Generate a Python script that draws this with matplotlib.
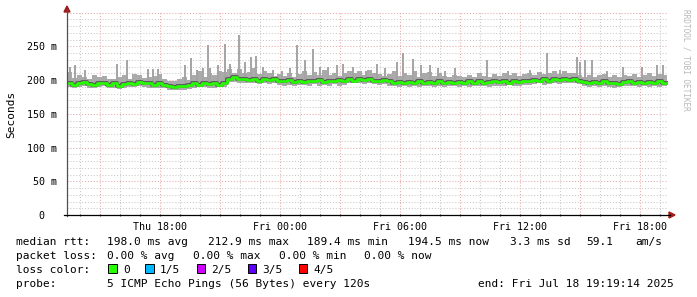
#!/usr/bin/env python3
"""SmokePing style latency graph (median rtt with smoke) drawn with matplotlib."""

import numpy as np
import matplotlib
matplotlib.use("Agg")
import matplotlib.pyplot as plt
from matplotlib.patches import Rectangle, Polygon

W, H = 697, 297

# time axis in hours (Thu 18:00 = 18, Fri 00:00 = 24, ...), 15 min samples
t_start = 13.35
t_step = 0.25

median_ms = [
    196, 193, 195, 197, 194, 193, 196,
    195, 193, 195, 192, 194, 196, 194,
    197, 195, 196, 193, 195, 193,
    192, 190, 192, 191, 193,
    195, 193, 196, 194, 195, 193, 196,
    202, 204, 201, 202, 200, 202, 199, 201, 200, 202, 199,
    198, 200, 197, 199, 197, 199, 198, 200, 197, 199, 198, 200, 198, 201,
    199, 201, 200, 202, 199, 198, 200,
    198, 196, 197, 195, 197, 196, 198, 195, 197, 196, 198, 195, 197, 196, 197,
    196, 198, 196, 198, 196, 197, 199, 197, 198, 196, 198, 197,
    199, 198, 200, 199, 201, 199, 201, 200, 202, 200, 201, 199,
    197, 195, 197, 196, 198, 195, 196, 194, 197, 198, 196, 197, 195, 197, 196, 198, 196,
]

low_ms = [
    190, 188, 190, 191, 189, 189, 190,
    191, 189, 188, 187, 188, 190, 190,
    191, 190, 189, 188, 189, 188,
    186, 185, 186, 186, 187,
    189, 190, 190, 189, 188, 190, 190,
    197, 197, 196, 195, 196, 195, 194, 195, 194, 195, 193,
    192, 193, 191, 193, 193, 191, 194, 192, 193, 192, 194, 192, 193, 195,
    195, 195, 194, 196, 194, 193, 194,
    192, 191, 190, 192, 190, 191, 190, 191, 192, 190, 191, 190, 192, 191, 190,
    191, 190, 192, 192, 191, 190, 192, 192, 191, 193, 191, 192,
    193, 193, 194, 195, 193, 194, 196, 194, 195, 196, 196, 194,
    191, 190, 191, 190, 192, 190, 189, 190, 191, 192, 191, 190, 191, 190, 192, 190, 191,
]

high_ms = [
    212, 203, 208, 205, 202, 207, 204,
    206, 202, 201, 205, 208, 202, 209,
    207, 203, 204, 206, 209, 202,
    199, 198, 202, 204, 200,
    208, 213, 205, 211, 208, 214, 212,
    216, 211, 217, 210, 212, 218, 209, 213, 210, 206, 209,
    206, 211, 205, 209, 213, 207, 212, 208, 215, 208, 211, 206, 210, 213,
    211, 213, 208, 215, 210, 209, 206,
    209, 213, 206, 211, 207, 214, 205, 210, 212, 206, 211, 206, 205, 208, 206,
    205, 208, 204, 210, 206, 205, 209, 206, 210, 207, 211, 206,
    209, 211, 207, 212, 209, 211, 214, 209, 213, 211, 210, 208,
    205, 208, 204, 207, 209, 205, 207, 204, 208, 206, 209, 205, 208, 211, 206, 209, 207,
]

# single-sample outliers of the slowest ping (hour, ms)
spike_t = [13.5, 13.75, 14.25, 15.85, 16.35, 17.4, 17.65, 17.9, 19.25, 19.55,
           19.85, 20.15, 20.4, 20.5, 20.9, 21.25, 21.5, 21.95, 22.25, 22.55,
           22.8, 23.15, 23.65, 24.1, 24.5, 24.85, 25.25, 25.65, 26.0, 26.4,
           26.85, 27.15, 27.65, 28.3, 28.85, 29.25, 29.85, 30.15, 30.65, 31.05,
           31.5, 31.9, 32.25, 32.75, 34.35, 35.4, 36.5, 37.35, 38.0, 38.85,
           39.0, 39.25, 39.6, 40.35, 41.15, 42.1, 42.85, 43.15]
spike_ms = [220, 222, 215, 224, 230, 216, 216, 216, 222, 233,
            215, 218, 252, 218, 222, 253, 224, 267, 227, 235,
            236, 220, 215, 213, 218, 252, 230, 246, 220, 220,
            222, 224, 220, 213, 224, 218, 227, 240, 232, 222,
            222, 218, 213, 218, 230, 213, 215, 240, 215, 235,
            227, 230, 230, 213, 220, 220, 222, 222]

x_ticks = [18, 24, 30, 36, 42]
x_labels = ["Thu 18:00", "Fri 00:00", "Fri 06:00", "Fri 12:00", "Fri 18:00"]
y_ticks = [0, 50, 100, 150, 200, 250]
y_labels = ["0  ", "50 m", "100 m", "150 m", "200 m", "250 m"]

loss_colors = ["#26ff00", "#00b8ff", "#cc00ff", "#5e00ff", "#ff0000"]
loss_names = ["0", "1/5", "2/5", "3/5", "4/5"]

MONO = "DejaVu Sans Mono"


def px_fig(x, y):
    return x / W, 1 - y / H


fig = plt.figure(figsize=(W / 100, H / 100), dpi=100, facecolor="white")
ax_l, ax_r, ax_t, ax_b = 67, 668, 12, 215
ax = fig.add_axes([ax_l / W, 1 - ax_b / H, (ax_r - ax_l) / W, (ax_b - ax_t) / H])
ax.set_xlim(13.35, 43.4)
ax.set_ylim(0, 301)
for s in ax.spines.values():
    s.set_visible(False)

# grid: hourly / 10 m minor, 3 h / 50 m major
for h in range(14, 44):
    major = h % 3 == 0
    ax.axvline(h, color="#eaa8a8" if major else "#c8c8c8", lw=0.75,
               ls=(0, (1, 1.8)), zorder=0)
for v in range(10, 301, 10):
    major = v % 50 == 0
    ax.axhline(v, color="#eaa8a8" if major else "#c8c8c8", lw=0.75,
               ls=(0, (1, 1.8)), zorder=0)

# smoke
t = t_start + t_step * np.arange(len(median_ms))
t_edges = np.append(t, t[-1] + t_step)
med = np.append(median_ms, median_ms[-1])
lo = np.append(low_ms, low_ms[-1])
hi = np.append(high_ms, high_ms[-1])
ax.fill_between(t_edges, lo, hi, step="post", color="#aaaaaa", lw=0, zorder=2)
idx = ((np.array(spike_t) - t_start) / t_step).astype(int)
ax.vlines(spike_t, np.array(median_ms)[idx], spike_ms, color="#a4a4a4",
          lw=1.4, zorder=2)
ax.step(t_edges, med, where="post", color="#5a5a5a", lw=2.8, zorder=3)
ax.step(t_edges, med, where="post", color="#26ff00", lw=1.9, zorder=4)

# ticks
ax.set_xticks(x_ticks)
ax.set_xticklabels(x_labels, fontfamily=MONO, fontsize=7.2)
ax.set_xticks(range(14, 44), minor=True)
ax.set_yticks(y_ticks)
ax.set_yticklabels(y_labels, fontfamily=MONO, fontsize=7.2)
ax.tick_params(axis="x", which="both", length=2, width=0.8, pad=4,
               direction="inout", color="#404040")
ax.tick_params(axis="y", length=0, pad=7)

# axes lines and arrows
ax_line = dict(transform=fig.transFigure, zorder=5)
fig.add_artist(plt.Line2D(*zip(px_fig(67, 216), px_fig(67, 9)),
                          color="#505050", lw=0.9, **ax_line))
fig.add_artist(plt.Line2D(*zip(px_fig(64, 215), px_fig(670, 215)),
                          color="black", lw=0.9, **ax_line))
fig.add_artist(Polygon([px_fig(64, 12), px_fig(70, 12), px_fig(67, 6)],
                       closed=True, color="#a01c1c", transform=fig.transFigure))
fig.add_artist(Polygon([px_fig(669, 212), px_fig(669, 218), px_fig(675, 215)],
                       closed=True, color="#a01c1c", transform=fig.transFigure))

fig.text(*px_fig(11, 114), "Seconds", rotation=90, ha="center", va="center",
         fontfamily=MONO, fontsize=8)
fig.text(*px_fig(686, 60), "RRDTOOL / TOBI OETIKER", rotation=270,
         ha="center", va="center", fontfamily=MONO, fontsize=5.6,
         color="#b8b8b8")

# legend block
def legend_text(x, y, s):
    fig.text(*px_fig(x, y), s, ha="left", va="baseline", fontfamily=MONO,
             fontsize=8.05, color="black")


legend_text(16, 245, "median rtt:")
for x, s in [(107, "198.0 ms avg"), (207.5, "212.9 ms max"),
             (306.7, "189.4 ms min"), (407.6, "194.5 ms now"),
             (510, "3.3 ms sd"), (585.8, "59.1"), (635.6, "am/s")]:
    legend_text(x, 245, s)

legend_text(16, 259, "packet loss:")
for x, s in [(107, "0.00 % avg"), (193, "0.00 % max"),
             (279, "0.00 % min"), (364.4, "0.00 % now")]:
    legend_text(x, 259, s)

legend_text(16, 273, "loss color:")
box_x = [108, 145, 196.5, 247.5, 298.5]
for bx, c, name in zip(box_x, loss_colors, loss_names):
    x0, y0 = px_fig(bx, 273)
    fig.add_artist(Rectangle((x0, y0), 8.5 / W, 9 / H, facecolor=c,
                             edgecolor="black", lw=0.7,
                             transform=fig.transFigure))
    legend_text(bx + 15, 273, name)

legend_text(16, 287, "probe:")
legend_text(107, 287, "5 ICMP Echo Pings (56 Bytes) every 120s")
legend_text(478, 287, "end: Fri Jul 18 19:19:14 2025")

plt.savefig("out.png", dpi=100, facecolor="white")
